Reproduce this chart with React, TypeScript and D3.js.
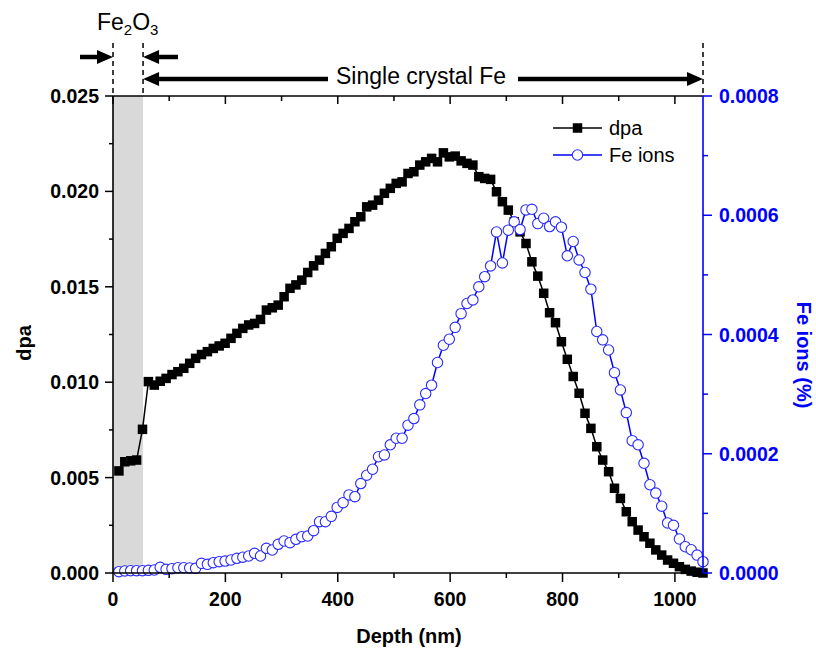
import React from 'react';
import * as d3 from 'd3';

const depthNm = [
  10.5, 21, 31.5, 42, 52.5, 63, 73.5, 84, 94.5, 105,
  115.5, 126, 136.5, 147, 157.5, 168, 178.5, 189, 199.5, 210,
  220.5, 231, 241.5, 252, 262.5, 273, 283.5, 294, 304.5, 315,
  325.5, 336, 346.5, 357, 367.5, 378, 388.5, 399, 409.5, 420,
  430.5, 441, 451.5, 462, 472.5, 483, 493.5, 504, 514.5, 525,
  535.5, 546, 556.5, 567, 577.5, 588, 598.5, 609, 619.5, 630,
  640.5, 651, 661.5, 672, 682.5, 693, 703.5, 714, 724.5, 735,
  745.5, 756, 766.5, 777, 787.5, 798, 808.5, 819, 829.5, 840,
  850.5, 861, 871.5, 882, 892.5, 903, 913.5, 924, 934.5, 945,
  955.5, 966, 976.5, 987, 997.5, 1008, 1018.5, 1029, 1039.5, 1050,
];

const dpaValues = [
  0.00535, 0.00583, 0.00588, 0.00592, 0.00753, 0.01003, 0.00985, 0.01005, 0.0102, 0.0104,
  0.01055, 0.01073, 0.01099, 0.01125, 0.01145, 0.0116, 0.01177, 0.0119, 0.01204, 0.0123,
  0.01256, 0.01282, 0.013, 0.01308, 0.01329, 0.01378, 0.0139, 0.01404, 0.01448, 0.01492,
  0.0151, 0.01535, 0.01575, 0.0161, 0.0164, 0.01675, 0.0171, 0.01754, 0.0178, 0.01806,
  0.01841, 0.01867, 0.01919, 0.01928, 0.01954, 0.0199, 0.02016, 0.02042, 0.0205, 0.02094,
  0.02103, 0.02138, 0.02155, 0.02173, 0.02155, 0.02202, 0.02181, 0.02185, 0.0216, 0.02147,
  0.02138, 0.02077, 0.02068, 0.02063, 0.01998, 0.01946, 0.01902, 0.01841, 0.01788, 0.01727,
  0.01631, 0.01556, 0.01466, 0.01364, 0.01312, 0.01212, 0.0112, 0.0103, 0.00942, 0.00837,
  0.00758, 0.00662, 0.00592, 0.00531, 0.00444, 0.00391, 0.00321, 0.00269, 0.00225, 0.0019,
  0.00156, 0.00121, 0.00094, 0.00068, 0.00051, 0.00033, 0.00019, 0.0001, 0.00004, 0.0,
];

const feIonValues = [
  0.0000022, 0.0000034, 0.0000039, 0.0000039, 0.0000039, 0.0000045, 0.000005, 0.0000095, 0.0000061, 0.0000073,
  0.0000089, 0.0000089, 0.0000085, 0.0000078, 0.0000162, 0.0000145, 0.0000173, 0.000019, 0.00002, 0.0000218,
  0.0000246, 0.0000265, 0.0000285, 0.000033, 0.0000285, 0.0000414, 0.0000386, 0.0000481, 0.0000537, 0.0000509,
  0.0000565, 0.0000609, 0.000062, 0.000071, 0.000086, 0.000086, 0.000095, 0.00011, 0.000118, 0.000131,
  0.000128, 0.00015, 0.000164, 0.000174, 0.000195, 0.000198, 0.000215, 0.000226, 0.000226, 0.000248,
  0.000259, 0.000282, 0.000301, 0.000315, 0.000353, 0.000382, 0.000392, 0.000412, 0.000435, 0.000452,
  0.000458, 0.00048, 0.000497, 0.000515, 0.000572, 0.00052, 0.000575, 0.000589, 0.000576, 0.000609,
  0.00061, 0.000586, 0.000595, 0.000581, 0.000589, 0.00058, 0.000532, 0.000556, 0.000525, 0.000504,
  0.000476, 0.000405, 0.000391, 0.000374, 0.000336, 0.000307, 0.000269, 0.000222, 0.000215, 0.000184,
  0.000148, 0.000134, 0.000112, 0.000084, 0.00008, 0.000057, 0.000044, 0.000039, 0.00003, 0.000019,
];

const xTickValues = [0, 200, 400, 600, 800, 1000];
const xMinorTickValues = [100, 300, 500, 700, 900];
const dpaTickValues = [0, 0.005, 0.01, 0.015, 0.02, 0.025];
const dpaMinorTickValues = [0.0025, 0.0075, 0.0125, 0.0175, 0.0225];
const feTickValues = [0, 0.0002, 0.0004, 0.0006, 0.0008];
const feMinorTickValues = [0.0001, 0.0003, 0.0005, 0.0007];
const oxideDepth = 53.5;
const depthMax = 1050;

const FONT = "Arial, 'Liberation Sans', sans-serif";
const BLUE = '#0000FF';
const CIRCLE_BLUE = '#2a2aff';

function Arrow({ from, to, y, head = 16, half = 7, width = 4.5 }: { from: number; to: number; y: number; head?: number; half?: number; width?: number }) {
  const dir = to > from ? 1 : -1;
  const base = to - dir * head;
  return (
    <g>
      <line x1={from} y1={y} x2={base} y2={y} stroke="#000" strokeWidth={width} />
      <path d={`M${to},${y} L${base},${y - half} L${base},${y + half} Z`} fill="#000" />
    </g>
  );
}

export default function App() {
  const W = 816;
  const H = 652;
  const left = 113, right = 703, top = 96, bottom = 573;
  const x = d3.scaleLinear().domain([0, depthMax]).range([left, right]);
  const yL = d3.scaleLinear().domain([0, 0.025]).range([bottom, top]);
  const yR = d3.scaleLinear().domain([0, 0.0008]).range([bottom, top]);

  const dpaLine = d3.line<number>().x((_, i) => x(depthNm[i])).y((d) => yL(d))(dpaValues) || '';
  const feLine = d3.line<number>().x((_, i) => x(depthNm[i])).y((d) => yR(d))(feIonValues) || '';

  const fmtL = d3.format('.3f');
  const fmtR = d3.format('.4f');
  const sq = 9.5;
  const cr = 5.2;
  const xOx = x(oxideDepth);

  return (
    <svg width={W} height={H} style={{ position: 'absolute', left: 0, top: 0, background: '#fff' }} fontFamily={FONT}>
      <rect x={0} y={0} width={W} height={H} fill="#fff" />
      {/* oxide shading */}
      <rect x={x(0)} y={top} width={xOx - x(0)} height={bottom - top} fill="#d9d9d9" />

      {/* dpa series */}
      <path d={dpaLine} fill="none" stroke="#000" strokeWidth={1.5} />
      {dpaValues.map((v, i) => (
        <rect key={'s' + i} x={x(depthNm[i]) - sq / 2} y={yL(v) - sq / 2} width={sq} height={sq} fill="#000" />
      ))}

      {/* Fe ions series */}
      <path d={feLine} fill="none" stroke={BLUE} strokeWidth={1.5} />
      {feIonValues.map((v, i) => (
        <circle key={'c' + i} cx={x(depthNm[i])} cy={yR(v)} r={cr} fill="#fff" stroke={CIRCLE_BLUE} strokeWidth={1.1} />
      ))}

      {/* frame */}
      <line x1={left} y1={top} x2={right} y2={top} stroke="#000" strokeWidth={1.6} />
      <line x1={left} y1={bottom} x2={right} y2={bottom} stroke="#000" strokeWidth={1.6} />
      <line x1={left} y1={top} x2={left} y2={bottom} stroke="#000" strokeWidth={1.6} />
      <line x1={right} y1={top} x2={right} y2={bottom} stroke={BLUE} strokeWidth={1.6} />

      {/* bottom ticks */}
      {xTickValues.map((t) => (
        <g key={'xt' + t}>
          <line x1={x(t)} y1={bottom} x2={x(t)} y2={bottom + 9} stroke="#000" strokeWidth={1.5} />
          <line x1={x(t)} y1={top} x2={x(t)} y2={top + 8} stroke="#000" strokeWidth={1.5} />
          <text x={x(t)} y={606} textAnchor="middle" fontSize={19.5} fontWeight="bold" fill="#000">{t}</text>
        </g>
      ))}
      {xMinorTickValues.map((t) => (
        <g key={'xm' + t}>
          <line x1={x(t)} y1={bottom} x2={x(t)} y2={bottom + 5} stroke="#000" strokeWidth={1.5} />
          <line x1={x(t)} y1={top} x2={x(t)} y2={top + 5} stroke="#000" strokeWidth={1.5} />
        </g>
      ))}

      {/* left ticks */}
      {dpaTickValues.map((t) => (
        <g key={'yl' + t}>
          <line x1={left - 8} y1={yL(t)} x2={left} y2={yL(t)} stroke="#000" strokeWidth={1.5} />
          <text x={99} y={yL(t) + 7} textAnchor="end" fontSize={19.5} fontWeight="bold" fill="#000">{fmtL(t)}</text>
        </g>
      ))}
      {dpaMinorTickValues.map((t) => (
        <line key={'ylm' + t} x1={left - 4} y1={yL(t)} x2={left} y2={yL(t)} stroke="#000" strokeWidth={1.5} />
      ))}

      {/* right ticks */}
      {feTickValues.map((t) => (
        <g key={'yr' + t}>
          <line x1={right} y1={yR(t)} x2={right + 9} y2={yR(t)} stroke={BLUE} strokeWidth={1.5} />
          <text x={719} y={yR(t) + 7} textAnchor="start" fontSize={19.5} fontWeight="bold" fill={BLUE}>{fmtR(t)}</text>
        </g>
      ))}
      {feMinorTickValues.map((t) => (
        <line key={'yrm' + t} x1={right} y1={yR(t)} x2={right + 5} y2={yR(t)} stroke={BLUE} strokeWidth={1.5} />
      ))}

      {/* axis titles */}
      <text x={409} y={643} textAnchor="middle" fontSize={20} fontWeight="bold" fill="#000">Depth (nm)</text>
      <text transform={`translate(24,343) rotate(-90)`} textAnchor="middle" dominantBaseline="central" fontSize={20} fontWeight="bold" fill="#000">dpa</text>
      <text transform={`translate(804,355) rotate(90)`} textAnchor="middle" dominantBaseline="central" fontSize={20} fontWeight="bold" fill={BLUE}>Fe ions (%)</text>

      {/* legend */}
      <line x1={553} y1={128} x2={602} y2={128} stroke="#000" strokeWidth={1.5} />
      <rect x={577.5 - sq / 2} y={128 - sq / 2} width={sq} height={sq} fill="#000" />
      <text x={609} y={128} dominantBaseline="central" fontSize={20} fill="#000">dpa</text>
      <line x1={553} y1={155} x2={602} y2={155} stroke={BLUE} strokeWidth={1.5} />
      <circle cx={577.5} cy={155} r={cr} fill="#fff" stroke={CIRCLE_BLUE} strokeWidth={1.1} />
      <text x={609} y={155} dominantBaseline="central" fontSize={20} fill="#000">Fe ions</text>

      {/* dashed boundaries */}
      {[0, oxideDepth, depthMax].map((d) => (
        <line key={'dash' + d} x1={x(d)} y1={43} x2={x(d)} y2={top} stroke="#000" strokeWidth={1.5} strokeDasharray="5,4" />
      ))}

      {/* annotations */}
      <text x={97} y={30} fontSize={23} fill="#000">
        Fe<tspan fontSize={15} dy={5}>2</tspan><tspan dy={-5}>O</tspan><tspan fontSize={15} dy={5}>3</tspan>
      </text>
      <Arrow from={80} to={x(0)} y={57} />
      <Arrow from={178} to={xOx} y={57} />
      <Arrow from={328} to={xOx} y={79} />
      <Arrow from={518} to={x(depthMax)} y={79} />
      <text x={336} y={84} fontSize={23} fill="#000">Single crystal Fe</text>
    </svg>
  );
}
